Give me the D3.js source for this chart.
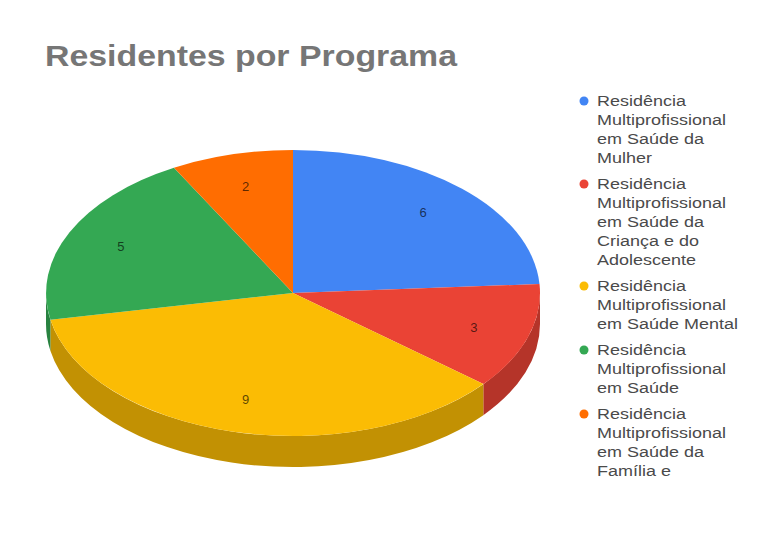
<!DOCTYPE html>
<html>
<head>
<meta charset="utf-8">
<script src="https://cdn.jsdelivr.net/npm/d3@7"></script>
<style>
  html, body { margin: 0; padding: 0; background: #ffffff; }
  svg { display: block; font-family: "Liberation Sans", Arial, sans-serif; }
</style>
</head>
<body>
<svg id="chart" width="771" height="553"></svg>
<script>
// Residents per programme
const programs = [
  ["Residência", "Multiprofissional", "em Saúde da", "Mulher"],
  ["Residência", "Multiprofissional", "em Saúde da", "Criança e do", "Adolescente"],
  ["Residência", "Multiprofissional", "em Saúde Mental"],
  ["Residência", "Multiprofissional", "em Saúde"],
  ["Residência", "Multiprofissional", "em Saúde da", "Família e"]
];
const residents = [6, 3, 9, 5, 2];
const sliceColors = ["#4285f4", "#ea4335", "#fbbc04", "#34a853", "#ff6d01"];
const title = "Residentes por Programa";

const svg = d3.select("#chart");

// Title
svg.append("text")
  .attr("x", 45).attr("y", 66)
  .attr("textLength", 412).attr("lengthAdjust", "spacingAndGlyphs")
  .attr("font-size", 30).attr("font-weight", "bold")
  .attr("fill", "#767676")
  .text(title);

// Tilted pie geometry
const cx = 293, cy = 293, rx = 247, ry = 143, depth = 31;

const pie = d3.pie().sort(null).value(d => d);
const arcs = pie(residents);

const px = a => cx + Math.sin(a) * rx;
const py = a => cy - Math.cos(a) * ry;

// Side walls: only the front half (angles between PI/2 and 3PI/2) is visible
const sides = svg.append("g");
arcs.forEach((d, i) => {
  const a0 = Math.max(d.startAngle, Math.PI / 2);
  const a1 = Math.min(d.endAngle, 3 * Math.PI / 2);
  if (a1 <= a0) return;
  const path = `M${px(a0)},${py(a0)} A${rx},${ry} 0 0 1 ${px(a1)},${py(a1)} ` +
    `L${px(a1)},${py(a1) + depth} A${rx},${ry} 0 0 0 ${px(a0)},${py(a0) + depth} Z`;
  sides.append("path")
    .attr("d", path)
    .attr("fill", d3.color(sliceColors[i]).darker(0.72).formatHex());
});

// Top surface: unit-radius arcs stretched into the ellipse
const unitArc = d3.arc().innerRadius(0).outerRadius(1);
svg.append("g")
  .attr("transform", `translate(${cx},${cy}) scale(${rx},${ry})`)
  .selectAll("path")
  .data(arcs)
  .join("path")
  .attr("d", unitArc)
  .attr("fill", (d, i) => sliceColors[i]);

// Value labels
const labelArc = d3.arc().innerRadius(0.77).outerRadius(0.77);
svg.append("g")
  .selectAll("text")
  .data(arcs)
  .join("text")
  .attr("x", d => cx + labelArc.centroid(d)[0] * rx)
  .attr("y", d => cy + labelArc.centroid(d)[1] * ry)
  .attr("dy", "0.35em")
  .attr("text-anchor", "middle")
  .attr("font-size", 13)
  .attr("fill", "rgba(0,0,0,0.65)")
  .text(d => d.data);

// Legend
const lineH = 19, entryGap = 26;
const legend = svg.append("g");
let y = 101;
programs.forEach((lines, i) => {
  legend.append("circle")
    .attr("cx", 584).attr("cy", y).attr("r", 4.5)
    .attr("fill", sliceColors[i]);
  lines.forEach((t, j) => {
    legend.append("text")
      .attr("transform", `translate(597,${y + j * lineH}) scale(1.24,1)`)
      .attr("dy", "0.36em")
      .attr("font-size", 14.5)
      .attr("fill", "#4a4a4a")
      .text(t);
  });
  y += (lines.length - 1) * lineH + entryGap;
});
</script>
</body>
</html>
